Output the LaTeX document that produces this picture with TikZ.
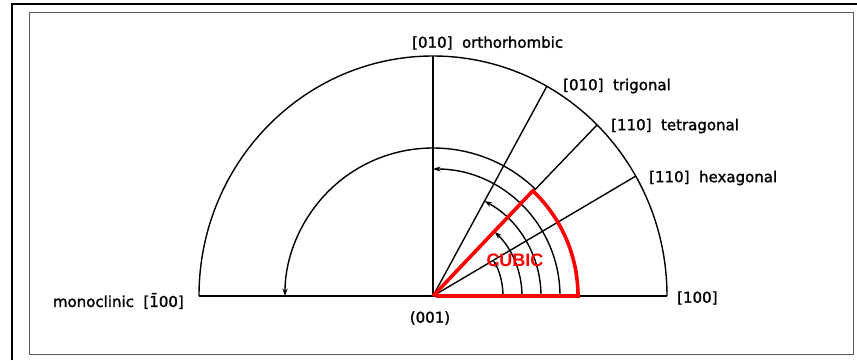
\documentclass[tikz,border=0pt]{standalone}
\usepackage{fontspec}
\setmainfont{DejaVu Sans}
\newfontfamily\lblfont[FakeBold=1.5]{DejaVu Sans}
\newfontfamily\cubicfont{Liberation Sans}
\usetikzlibrary{arrows.meta}
\begin{document}
\begin{tikzpicture}[x=1pt,y=1pt,
  ln/.style={line width=1.4pt,black},
  arr/.style={ln,-{Stealth[length=7.5pt,width=5pt]}},
  lbl/.style={inner sep=0pt,font=\lblfont\fontsize{15}{18}\selectfont},
  redl/.style={line width=3.6pt,red,line join=miter}]
\useasboundingbox (-433,-64) rectangle (424,296);
% frames
\draw[line width=2.6pt] (-421,-64) -- (-421,292) -- (424,292);
\draw[gray!70!black,line width=1pt] (-403,-58) rectangle (420,284);
% origin and outer semi-ellipse
\coordinate (O) at (0,0);
\coordinate (L) at (-234,0);
\coordinate (R) at (234,0);
\coordinate (T) at (90:240);
\coordinate (Ptri) at (61.5:238.6);
\coordinate (Ptet) at (46.2:237.1);
\coordinate (Phex) at (30.6:235.5);
\draw[ln] (R) arc[start angle=0,end angle=180,x radius=234,y radius=240];
\draw[ln] (L) -- (R);
\draw[ln] (O) -- (T);
\draw[ln] (O) -- (Ptri);
\draw[ln] (O) -- (Ptet);
\draw[ln] (O) -- (Phex);
% arrow arcs
\coordinate (A1) at (0:70);
\coordinate (A2) at (0:89);
\coordinate (A3) at (0:108);
\coordinate (A4) at (0:127);
\coordinate (A5) at (46:148);
\draw[arr] (A1) arc[start angle=0,end angle=30.6,radius=70];
\draw[arr] (A2) arc[start angle=0,end angle=46.2,radius=89];
\draw[arr] (A3) arc[start angle=0,end angle=61.5,radius=108];
\draw[arr] (A4) arc[start angle=0,end angle=90,radius=127];
\draw[arr] (A5) arc[start angle=46,end angle=180,radius=148];
% red cubic sector
\coordinate (C0) at (3,0);
\coordinate (C1) at (145,0);
\draw[redl] (C0) -- (C1) arc[start angle=0,end angle=46.5,radius=145] -- (O);
\node[inner sep=0pt,text=red,font=\cubicfont\bfseries\fontsize{18}{20}\selectfont] (cubic) at (82,36) {CUBIC};
% labels
\node[lbl,anchor=west] (lorth) at (-21,253) {[010]\ \ orthorhombic};
\node[lbl,anchor=west] (ltri) at (130,210) {[010]\ \ trigonal};
\node[lbl,anchor=west] (ltet) at (178,170) {[110]\ \ tetragonal};
\node[lbl,anchor=west] (lhex) at (216,118) {[110]\ \ hexagonal};
\node[lbl,anchor=east] (lmono) at (-249,-5) {monoclinic\ \ [\=100]};
\node[lbl,anchor=west] (l100) at (244,-2) {[100]};
\node[lbl] (l001) at (-3,-22) {(001)};
\end{tikzpicture}
\end{document}
